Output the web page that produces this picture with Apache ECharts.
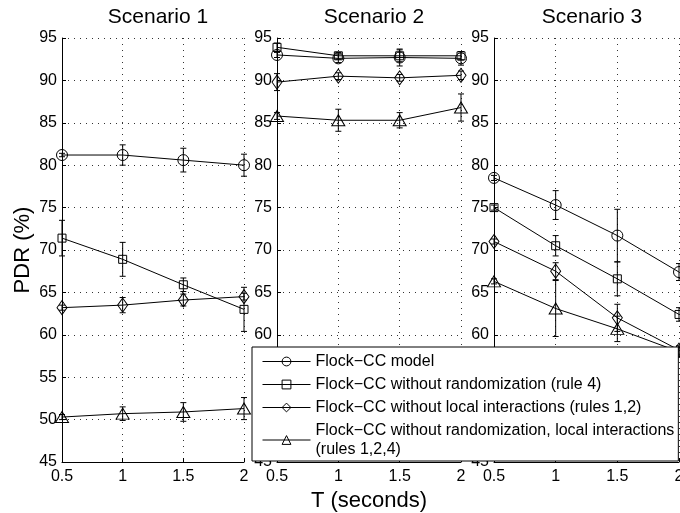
<!DOCTYPE html>
<html>
<head>
<meta charset="utf-8">
<script src="https://cdn.jsdelivr.net/npm/echarts@6/dist/echarts.min.js"></script>
<style>
  html, body { margin: 0; padding: 0; background: #fff; }
  #chart { width: 680px; height: 513px; }
</style>
</head>
<body>
<div id="chart"></div>
<script>
// T (seconds)
const tValues = [0.5, 1, 1.5, 2];
const scenarioNames = ["Scenario 1", "Scenario 2", "Scenario 3"];
const seriesNames = [
  "Flock\u2212CC model",
  "Flock\u2212CC without randomization (rule 4)",
  "Flock\u2212CC without local interactions (rules 1,2)",
  "Flock\u2212CC without randomization, local interactions\n(rules 1,2,4)",
];
const yTicks = { min: 45, max: 95, step: 5 };

// PDR (%) per scenario, one array per curve, plus error bar half-lengths
const s1Model = [81.2, 81.2, 80.6, 80.0];
const s1ModelErr = [0.2, 1.2, 1.4, 1.3];
const s1NoRand = [71.4, 68.9, 65.9, 63.0];
const s1NoRandErr = [2.1, 2.0, 0.8, 2.6];
const s1NoLocal = [63.2, 63.5, 64.1, 64.5];
const s1NoLocalErr = [0.3, 0.9, 0.7, 0.4];
const s1NoBoth = [50.3, 50.7, 50.9, 51.3];
const s1NoBothErr = [0.3, 0.8, 1.1, 1.3];

const s2Model = [93.0, 92.6, 92.7, 92.6];
const s2ModelErr = [0.3, 0.5, 1.0, 0.8];
const s2NoRand = [93.9, 92.9, 92.9, 92.9];
const s2NoRandErr = [0.5, 0.4, 0.7, 0.5];
const s2NoLocal = [89.8, 90.5, 90.3, 90.6];
const s2NoLocalErr = [1.0, 0.4, 0.4, 0.5];
const s2NoBoth = [85.8, 85.3, 85.3, 86.8];
const s2NoBothErr = [0.4, 1.3, 0.9, 1.6];

const s3Model = [78.5, 75.3, 71.7, 67.4];
const s3ModelErr = [0.3, 1.7, 3.1, 1.0];
const s3NoRand = [75.0, 70.5, 66.6, 62.4];
const s3NoRandErr = [0.3, 1.2, 2.0, 0.8];
const s3NoLocal = [71.0, 67.5, 62.0, 58.2];
const s3NoLocalErr = [0.3, 1.0, 1.6, 0.5];
const s3NoBoth = [66.3, 63.1, 60.7, 58.0];
const s3NoBothErr = [0.3, 3.3, 1.5, 0.5];

const scenarios = [
  [[s1Model, s1ModelErr], [s1NoRand, s1NoRandErr], [s1NoLocal, s1NoLocalErr], [s1NoBoth, s1NoBothErr]],
  [[s2Model, s2ModelErr], [s2NoRand, s2NoRandErr], [s2NoLocal, s2NoLocalErr], [s2NoBoth, s2NoBothErr]],
  [[s3Model, s3ModelErr], [s3NoRand, s3NoRandErr], [s3NoLocal, s3NoLocalErr], [s3NoBoth, s3NoBothErr]],
];

const FONT = "'Liberation Sans', Arial, Helvetica, sans-serif";
const markers = [
  { symbol: "circle", size: 11 },
  { symbol: "rect", size: 8 },
  { symbol: "diamond", size: [10, 14] },
  { symbol: "triangle", size: [13, 11] },
];
const grids = [
  { left: 62, width: 182, top: 38, height: 424, outerBoundsMode: "none" },
  { left: 277, width: 184, top: 38, height: 424, outerBoundsMode: "none" },
  { left: 494, width: 185, top: 38, height: 424, outerBoundsMode: "none" },
];
const titleCenters = [153, 369, 587];

const chart = echarts.init(document.getElementById("chart"));

// 误差棒
const renderErr = (params, api) => {
  const x = api.value(0);
  const top = api.coord([x, api.value(2)]);
  const bot = api.coord([x, api.value(1)]);
  const w = 3;
  const style = { stroke: "#000", lineWidth: 1 };
  return {
    type: "group",
    children: [
      { type: "line", shape: { x1: top[0], y1: top[1], x2: bot[0], y2: bot[1] }, style },
      { type: "line", shape: { x1: top[0] - w, y1: top[1], x2: top[0] + w, y2: top[1] }, style },
      { type: "line", shape: { x1: bot[0] - w, y1: bot[1], x2: bot[0] + w, y2: bot[1] }, style },
    ],
  };
};

const dotted = { color: "#333", width: 1, type: [1, 5] };

const xAxis = grids.map((g, i) => ({
  type: "value",
  gridIndex: i,
  min: 0.5,
  max: 2,
  interval: 0.5,
  name: i === 1 ? "T (seconds)" : "",
  nameLocation: "middle",
  nameGap: 24,
  nameTextStyle: { color: "#000", fontSize: 22, fontFamily: FONT },
  axisLine: { show: true, onZero: false, lineStyle: { color: "#000", width: 1 } },
  axisTick: { show: true, inside: true, length: 4, lineStyle: { color: "#000" } },
  axisLabel: { color: "#000", fontSize: 16, fontFamily: FONT, margin: 7, hideOverlap: false },
  splitLine: { show: true, lineStyle: dotted },
}));

const yAxis = grids.map((g, i) => ({
  type: "value",
  gridIndex: i,
  min: yTicks.min,
  max: yTicks.max,
  interval: yTicks.step,
  name: i === 0 ? "PDR (%)" : "",
  nameLocation: "middle",
  nameGap: 28,
  nameTextStyle: { color: "#000", fontSize: 22, fontFamily: FONT },
  axisLine: { show: true, onZero: false, lineStyle: { color: "#000", width: 1 } },
  axisTick: { show: true, inside: true, length: 4, lineStyle: { color: "#000" } },
  axisLabel: { color: "#000", fontSize: 16, fontFamily: FONT, margin: 5 },
  splitLine: { show: true, lineStyle: dotted },
}));

const series = [];
scenarios.forEach((curves, si) => {
  const errData = [];
  curves.forEach(([vals, errs], ci) => {
    series.push({
      name: seriesNames[ci],
      type: "line",
      xAxisIndex: si,
      yAxisIndex: si,
      data: tValues.map((t, k) => [t, vals[k]]),
      symbol: markers[ci].symbol,
      symbolSize: markers[ci].size,
      showAllSymbol: true,
      lineStyle: { color: "#000", width: 1 },
      itemStyle: { color: "rgba(255,255,255,0)", borderColor: "#000", borderWidth: 1 },
      emphasis: { disabled: true },
      animation: false,
      clip: false,
      z: 3,
    });
    tValues.forEach((t, k) => errData.push([t, vals[k] - errs[k], vals[k] + errs[k]]));
  });
  series.push({
    type: "custom",
    xAxisIndex: si,
    yAxisIndex: si,
    data: errData,
    encode: { x: 0, y: [1, 2] },
    renderItem: renderErr,
    animation: false,
    silent: true,
    clip: false,
    z: 4,
  });
});

const option = {
  backgroundColor: "#fff",
  animation: false,
  title: scenarioNames.map((name, i) => ({
    text: name,
    left: titleCenters[i],
    top: 2,
    textAlign: "center",
    textStyle: { color: "#000", fontSize: 21, fontWeight: "normal", fontFamily: FONT },
  })),
  grid: grids,
  xAxis,
  yAxis,
  legend: {
    data: seriesNames,
    orient: "vertical",
    left: 252,
    top: 347,
    itemWidth: 48,
    itemHeight: 11,
    itemGap: 4,
    padding: [5, 4, 2, 10],
    backgroundColor: "#fff",
    borderColor: "#000",
    borderWidth: 1,
    borderRadius: 0,
    selectedMode: false,
    z: 10,
    lineStyle: { width: 1, color: "#000" },
    itemStyle: { color: "rgba(255,255,255,0)", borderColor: "#000", borderWidth: 1 },
    textStyle: { color: "#000", fontSize: 16, lineHeight: 19, fontFamily: FONT },
  },
  series,
};

chart.setOption(option);
</script>
</body>
</html>
